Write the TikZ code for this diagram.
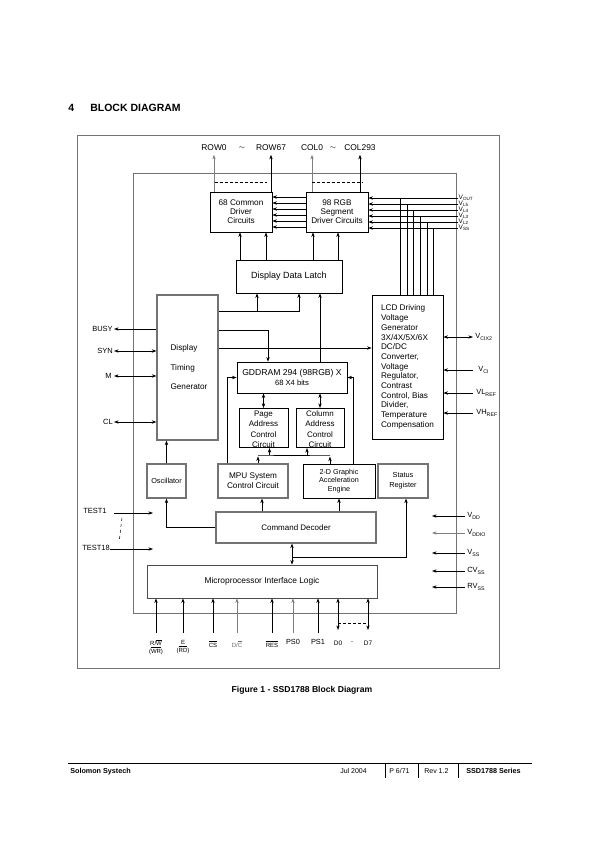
\documentclass[tikz,border=0pt]{standalone}
\usepackage{fontspec}
\setmainfont{Liberation Sans}
\usetikzlibrary{arrows.meta,calc}
\newcommand{\setfs}[2]{\fontsize{#1}{#2}\selectfont}
\newcommand{\ovl}[1]{$\overline{\mbox{#1}}$}

\begin{document}
\begin{tikzpicture}[x=1pt, y=-1pt, >={Stealth[length=4.6pt,width=3.4pt]}, line width=0.6pt,
  blk/.style={draw, line width=0.8pt, inner sep=0pt, align=center, font=\setfs{8.2}{9}},
  gblk/.style={blk, draw=black!55, line width=1.2pt},
  pin/.style={inner sep=0pt, font=\setfs{7.5}{9}},
  vlbl/.style={inner sep=0pt, font=\setfs{6.5}{6}},
  tiny/.style={inner sep=0pt, align=center, font=\setfs{6}{7.5}}]
  \useasboundingbox (0,0) rectangle (595,841);

  % heading
  \node[anchor=base west, inner sep=0pt, font=\bfseries\setfs{10.5}{12}] (num) at (68,111) {4};
  \node[anchor=base west, inner sep=0pt, font=\bfseries\setfs{10.5}{12}] (head) at (90,111) {BLOCK DIAGRAM};

  % frame and chip outline
  \draw[black!55, line width=0.9pt] (77,135) rectangle (499,668);
  \draw[black!55, line width=0.9pt] (133,173) rectangle (456,613);

  % blocks
  \node[blk, minimum width=62pt, minimum height=40pt] (com) at (241,212) {68 Common\\Driver\\Circuits};
  \node[blk, minimum width=62pt, minimum height=40pt] (seg) at (337,212) {98 RGB\\Segment\\Driver Circuits};
  \node[blk, minimum width=106pt, minimum height=33pt, font=\setfs{9}{10}] (latch) at (289,276.5) {Display Data Latch};
  \node[gblk, minimum width=61pt, minimum height=145pt, align=left, font=\setfs{8.2}{9}] (timing) at (187.5,367.5) {\hspace*{3pt}Display\\[10.5pt]\hspace*{3pt}Timing\\[10.5pt]\hspace*{3pt}Generator};
  \node[blk, minimum width=71pt, minimum height=144pt, align=left, font=\setfs{8.2}{9.7}] (lcd) at (407.5,367) {LCD Driving\\Voltage\\Generator\\3X/4X/5X/6X\\DC/DC\\Converter,\\Voltage\\Regulator,\\Contrast\\Control, Bias\\Divider,\\Temperature\\Compensation};
  \node[blk, minimum width=110pt, minimum height=31pt, font=\setfs{8.6}{9.5}] (gdd) at (292,377.5) {GDDRAM 294 (98RGB) X\\{\setfs{7.6}{9}68 X4 bits}};
  \node[blk, minimum width=49pt, minimum height=38pt, font=\setfs{8}{10.3}] (page) at (263.5,428) {\\[-2pt]Page\\Address\\Control\\Circuit};
  \node[blk, minimum width=48pt, minimum height=38pt, font=\setfs{8}{10.3}] (col) at (320,428) {\\[-2pt]Column\\Address\\Control\\Circuit};
  \node[gblk, minimum width=39pt, minimum height=34pt, font=\setfs{7.3}{9}] (osc) at (166.5,481) {Oscillator};
  \node[gblk, minimum width=70pt, minimum height=34pt, font=\setfs{8.2}{10}] (mpu) at (253,481) {MPU System\\Control Circuit};
  \node[blk, minimum width=72pt, minimum height=34pt, font=\setfs{7.2}{8.5}] (gfx) at (339,481) {2-D Graphic\\Acceleration\\Engine};
  \node[gblk, minimum width=50pt, minimum height=34pt, font=\setfs{7.3}{10}] (status) at (403,481) {Status\\Register};
  \node[gblk, minimum width=160pt, minimum height=31pt, font=\setfs{8}{9}] (cmd) at (296,527.5) {Command Decoder};
  \node[blk, draw=black!70, minimum width=230pt, minimum height=33pt, font=\setfs{8.4}{9}] (mil) at (262,581.5) {Microprocessor Interface Logic};

  % row / column outputs
  \node[pin, font=\setfs{8.4}{9}] (row0) at (214,148) {ROW0};
  \node[pin] (til1) at (242,148) {$\sim$};
  \node[pin, font=\setfs{8.4}{9}] (row67) at (271,148) {ROW67};
  \node[pin, font=\setfs{8.4}{9}] (col0) at (312,148) {COL0};
  \node[pin] (til2) at (333,148) {$\sim$};
  \node[pin, font=\setfs{8.4}{9}] (col293) at (360,148) {COL293};
  \draw[->, black!50] (com.north -| row0) -- ([yshift=-3.5pt]row0.south);
  \draw[->] (com.north -| row67) -- ([yshift=-3.5pt]row67.south);
  \draw[->, black!50] (seg.north -| col0) -- ([yshift=-3.5pt]col0.south);
  \draw[->] (seg.north -| col293) -- ([yshift=-3.5pt]col293.south);
  \draw[densely dashed, line width=0.4pt] ($(com.north west)+(5,-9)$) -- ($(com.north east)+(-5,-9)$);
  \draw[densely dashed, line width=0.4pt] ($(seg.north west)+(6,-9)$) -- ($(seg.north east)+(-6,-9)$);

  % segment to common
  \foreach \dy in {-15,-9,-3,3,9,15}
    \draw[->] ($(seg.west)+(0,\dy)$) -- ($(com.east)+(0,\dy)$);

  % supply levels
  \foreach \dy/\vx/\sub [count=\i] in {-14/400/OUT,-8/407/L5,-2/413/L4,4/420/L3,10/427/L2,16/433/SS} {
    \node[vlbl, anchor=west] (v\i) at ($(seg.east)+(90,\dy)$) {V\textsubscript{\sub}};
    \draw[->] (v\i.west) -- (v\i.west -| seg.east);
    \coordinate (d\i) at (\vx,0);
    \draw (v\i.west -| d\i) -- (lcd.north -| d\i);
  }

  % latch to drivers
  \foreach \n/\dx in {com/-1, com/25, seg/-24, seg/1} {
    \coordinate (up) at ($(\n.south)+(\dx,0)$);
    \draw[->] (latch.north -| up) -- (up);
  }

  % timing generator outputs
  \coordinate (t1) at ($(timing.east)+(0,-56.5)$);
  \coordinate (t2) at ($(timing.east)+(0,-37.5)$);
  \coordinate (t3) at ($(timing.east)+(0,-19.5)$);
  \coordinate (la1) at ($(latch.south)+(-32,0)$);
  \coordinate (la2) at ($(latch.south)+(10,0)$);
  \coordinate (g0) at ($(gdd.north)+(-24,0)$);
  \coordinate (g1) at ($(gdd.north)+(28,0)$);
  \draw[->] (t1) -| (la2);
  \draw[->] (t1 -| la1) -- (la1);
  \draw[->] (t2) -| (g0);
  \draw[->] (t3) -- (t3 -| lcd.west);
  \draw[->] (g1) -- (g1 |- latch.south);

  % left pins
  \node[pin, anchor=east] (busy) at (113,329) {BUSY};
  \node[pin, anchor=east] (syn) at (113,351) {SYN};
  \node[pin, anchor=east] (m) at (112,376) {M};
  \node[pin, anchor=east] (cl) at (113,422) {CL};
  \draw[->] (timing.west |- busy) -- ([xshift=1pt]busy.east);
  \draw[<->] ([xshift=1pt]syn.east) -- (syn -| timing.west);
  \draw[<->] ([xshift=2pt]m.east) -- (m -| timing.west);
  \draw[<->] ([xshift=1pt]cl.east) -- (cl -| timing.west);

  % GDDRAM links
  \coordinate (m2) at ($(mpu.north)+(-26,0)$);
  \coordinate (g2) at ($(gfx.north)+(14,0)$);
  \draw[->] (m2) |- (gdd.west);
  \draw[->] (g2) |- (gdd.east);
  \draw[<->] (gdd.south -| page.north) -- (page.north);
  \draw[<->] (gdd.south -| col.north) -- (col.north);

  % address bus
  \coordinate (b1) at ($(mpu.north)+(5,-8)$);
  \coordinate (b2) at ($(gfx.north)+(-9,-8)$);
  \coordinate (pb) at ($(page.south)+(6,0)$);
  \coordinate (cb) at ($(col.south)+(-13,0)$);
  \draw (b1) -- (b2);
  \draw[->] (b1 |- mpu.north) -- ($(b1)+(0,1)$);
  \draw[->] (b2 |- gfx.north) -- ($(b2)+(0,1)$);
  \draw[->] (b1 -| pb) -- (pb);
  \draw[->] (b1 -| cb) -- (cb);

  % command decoder links
  \coordinate (m1) at ($(mpu.south)+(9,0)$);
  \coordinate (cm) at ($(cmd.south)+(-4,0)$);
  \coordinate (cs) at ($(cm)+(0,14)$);
  \coordinate (st1) at ($(status.south)+(3,0)$);
  \draw[->] (osc.north) -- (osc.north |- timing.south);
  \draw[->] (cmd.west) -| (osc.south);
  \draw[->] (m1 |- cmd.north) -- (m1);
  \draw[->] (cmd.north -| gfx.south) -- (gfx.south);
  \draw[<->] (cm) -- (cm |- mil.north);
  \draw[->] (cs) -| (st1);

  % test pins
  \node[pin, anchor=west] (test1) at (83,511) {TEST1};
  \node[pin, anchor=west] (test18) at (82,548) {TEST18};
  \coordinate (t1e) at (153,513);
  \coordinate (t18e) at (153,549);
  \draw[->] ($(test1.east)+(7,2)$) -- (t1e);
  \draw[->] ($(test18.east)+(0,1)$) -- (t18e);
  \draw[dashed, line width=0.5pt] ($(test1.south east)+(15,4)$) -- ($(test18.north east)+(9,-3)$);

  % LCD driver pins
  \node[pin, anchor=west] (vcix) at (475,337) {V\textsubscript{CIX2}};
  \node[pin, anchor=west] (vci) at (478,370) {V\textsubscript{CI}};
  \node[pin, anchor=west] (vlref) at (476,393) {VL\textsubscript{REF}};
  \node[pin, anchor=west] (vhref) at (476,413) {VH\textsubscript{REF}};
  \draw[<->] (lcd.east |- vcix) -- ($(vcix.west)+(-2,0)$);
  \draw[->] ($(vci.west)+(-5,0)$) -- (lcd.east |- vci);
  \draw[->] ($(vlref.west)+(-3,0)$) -- (lcd.east |- vlref);
  \draw[->] ($(vhref.west)+(-3,0)$) -- (lcd.east |- vhref);

  % power pins
  \foreach \y/\t/\c [count=\i] in {516/{V\textsubscript{DD}}/black, 533/{V\textsubscript{DDIO}}/black!50,
      553/{V\textsubscript{SS}}/black, 571/{CV\textsubscript{SS}}/black, 587/{RV\textsubscript{SS}}/black} {
    \node[pin, anchor=west] (p\i) at (467,\y) {\t};
    \coordinate (q\i) at (432,\y);
    \draw[->, \c] ($(p\i.west)+(-2,0)$) -- (q\i);
  }

  % interface pins
  \node[tiny] (rw) at (156,647) {R/\ovl{W}\\(\ovl{WR})};
  \node[tiny] (e) at (183,647) {E\\(\ovl{RD})};
  \node[tiny] (cs) at (213,644) {\ovl{CS}};
  \node[tiny, black!60] (dc) at (237,644) {D/\ovl{C}};
  \node[tiny] (res) at (272,644) {\ovl{RES}};
  \node[tiny, font=\setfs{7.4}{8}] (ps0) at (293,642) {PS0};
  \node[tiny, font=\setfs{7.4}{8}] (ps1) at (318,642) {PS1};
  \node[tiny, font=\setfs{6.5}{8}] (d0) at (338,643) {D0};
  \node[tiny] (dsh) at (352,643) {-};
  \node[tiny, font=\setfs{6.5}{8}] (d7) at (368,643) {D7};
  \coordinate (pinb) at (0,633);
  \coordinate (dd) at (0,630);
  \coordinate (dq) at (0,623);
  \foreach \n in {rw,e,cs,res,ps1}
    \draw[->] (\n |- pinb) -- (\n |- mil.south);
  \foreach \n in {dc,ps0}
    \draw[->, black!50] (\n |- pinb) -- (\n |- mil.south);
  \draw[<->] (d0 |- mil.south) -- (d0 |- dd);
  \draw[<->] (d7 |- mil.south) -- (d7 |- dd);
  \draw[densely dashed, line width=0.5pt] (d0 |- dq) -- (d7 |- dq);

  % caption
  \node[inner sep=0pt, font=\bfseries\setfs{8.6}{10}] (cap) at (302,690) {Figure 1 - SSD1788 Block Diagram};

  % footer
  \draw[line width=0.8pt] (68,763) -- (532,763);
  \draw[line width=0.4pt] (385,763) -- (385,778);
  \draw[line width=0.4pt] (418,763) -- (418,778);
  \draw[line width=0.4pt] (458,763) -- (458,778);
  \node[anchor=base west, inner sep=0pt, font=\bfseries\setfs{7.2}{8}] (co) at (70,773.5) {Solomon Systech};
  \node[anchor=base west, inner sep=0pt, font=\setfs{7}{8}] (date) at (340,773.5) {Jul 2004};
  \node[anchor=base west, inner sep=0pt, font=\setfs{7}{8}] (pg) at (389,773.5) {P 6/71};
  \node[anchor=base west, inner sep=0pt, font=\setfs{7}{8}] (rev) at (424,773.5) {Rev 1.2};
  \node[anchor=base west, inner sep=0pt, font=\bfseries\setfs{7.2}{8}] (ser) at (466,773.5) {SSD1788 Series};
\end{tikzpicture}
\end{document}
